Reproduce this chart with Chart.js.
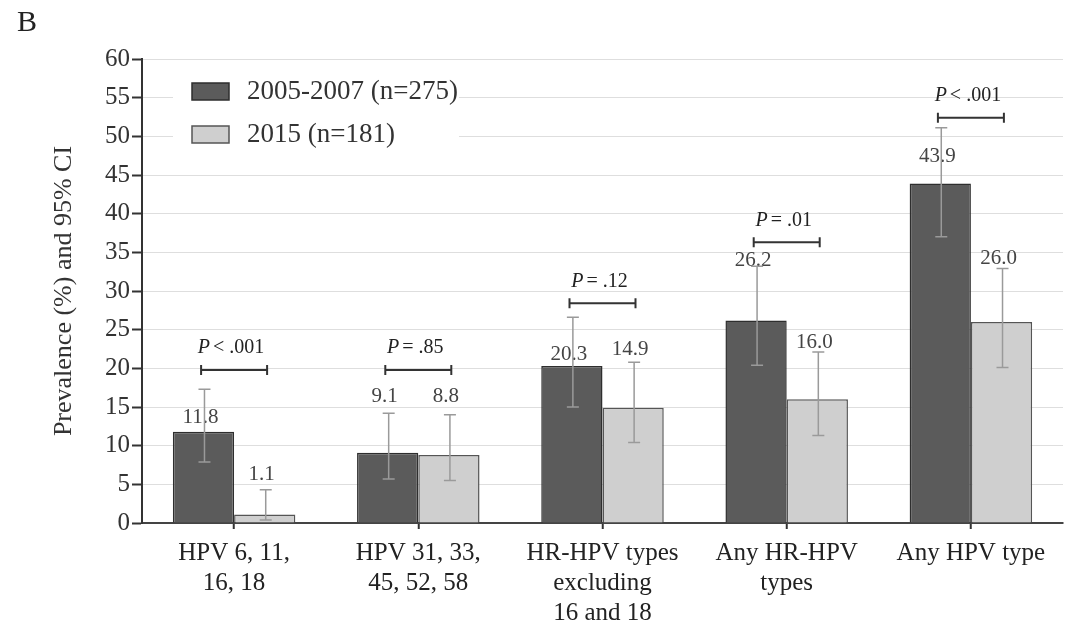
<!DOCTYPE html>
<html><head><meta charset="utf-8">
<script src="https://cdn.jsdelivr.net/npm/chart.js@4.4.0/dist/chart.umd.min.js"></script>
<style>
html,body{margin:0;padding:0;background:#fff;}
#wrap{position:relative;width:1072px;height:627px;overflow:hidden;}
#panel{position:absolute;left:17px;top:3px;font:30px "Liberation Serif",serif;color:#222;line-height:36px;}
</style></head><body>
<div id="wrap"><canvas id="c" width="1072" height="627"></canvas><div id="panel">B</div></div>
<script>
// ---- data ----
const categories = [["HPV 6, 11,","16, 18"],["HPV 31, 33,","45, 52, 58"],["HR-HPV types","excluding","16 and 18"],["Any HR-HPV","types"],["Any HPV type"]];
const seriesNames = ["2005-2007 (n=275)","2015 (n=181)"];
const prev2005 = [11.8, 9.1, 20.3, 26.2, 43.9];
const prev2015 = [1.1, 8.8, 14.9, 16.0, 26.0];
const ciLow2005 = [7.9, 5.7, 15.0, 20.4, 37.0];
const ciHigh2005 = [17.3, 14.2, 26.6, 33.2, 51.1];
const ciLow2015 = [0.4, 5.5, 10.4, 11.3, 20.1];
const ciHigh2015 = [4.3, 14.0, 20.8, 22.1, 32.9];
// level (in %) at which each value label is printed in the reference
const labelLevel2005 = [13.7, 16.3, 21.8, 34.0, 47.4];
const labelLevel2015 = [6.3, 16.3, 22.4, 23.3, 34.2];
const pValues = ["< .001","= .85","= .12","= .01","< .001"];
const pBracketLevel = [19.8, 19.8, 28.4, 36.3, 52.4];
const yMin = 0, yMax = 60, yStep = 5;
const yTitle = "Prevalence (%) and 95% CI";

const SERIF = '"Liberation Serif", "DejaVu Serif", serif';
const fmt = v => v.toFixed(1);

const overlay = {
  id: 'overlay',
  afterDatasetsDraw(chart) {
    const ctx = chart.ctx, y = chart.scales.y, x = chart.scales.x;
    const sets = [
      {vals: prev2005, lo: ciLow2005, hi: ciHigh2005, lab: labelLevel2005},
      {vals: prev2015, lo: ciLow2015, hi: ciHigh2015, lab: labelLevel2015}
    ];
    ctx.save();
    // value labels
    ctx.font = '21px ' + SERIF;
    ctx.fillStyle = '#444';
    ctx.textAlign = 'center';
    ctx.textBaseline = 'middle';
    sets.forEach((s, di) => {
      chart.getDatasetMeta(di).data.forEach((bar, i) => {
        ctx.fillText(fmt(s.vals[i]), bar.x - 3, y.getPixelForValue(s.lab[i]));
      });
    });
    // error bars
    ctx.strokeStyle = '#9a9a9a';
    ctx.lineWidth = 1.5;
    sets.forEach((s, di) => {
      chart.getDatasetMeta(di).data.forEach((bar, i) => {
        const cx = bar.x + 1;
        const yl = y.getPixelForValue(s.lo[i]), yh = y.getPixelForValue(s.hi[i]);
        ctx.beginPath();
        ctx.moveTo(cx, yl); ctx.lineTo(cx, yh);
        ctx.moveTo(cx - 6, yl); ctx.lineTo(cx + 6, yl);
        ctx.moveTo(cx - 6, yh); ctx.lineTo(cx + 6, yh);
        ctx.stroke();
      });
    });
    // p-value brackets
    ctx.strokeStyle = '#333';
    ctx.lineWidth = 2;
    pValues.forEach((p, i) => {
      const cx = x.getPixelForValue(i);
      const by = y.getPixelForValue(pBracketLevel[i]);
      ctx.beginPath();
      ctx.moveTo(cx - 33, by); ctx.lineTo(cx + 33, by);
      ctx.moveTo(cx - 33, by - 5); ctx.lineTo(cx - 33, by + 5);
      ctx.moveTo(cx + 33, by - 5); ctx.lineTo(cx + 33, by + 5);
      ctx.stroke();
      const fi = 'italic 20px ' + SERIF, fr = '20px ' + SERIF;
      const gap = 3;
      ctx.font = fi; const w1 = ctx.measureText('P').width;
      ctx.font = fr; const w2 = ctx.measureText(p).width;
      const x0 = cx - 3 - (w1 + gap + w2) / 2;
      ctx.fillStyle = '#222';
      ctx.textAlign = 'left';
      ctx.font = fi; ctx.fillText('P', x0, by - 22);
      ctx.font = fr; ctx.fillText(p, x0 + w1 + gap, by - 22);
    });
    // legend
    ctx.fillStyle = '#fff';
    ctx.fillRect(173, 66, 286, 92);
    const colors = [['#5b5b5b', '#2e2e2e'], ['#cfcfcf', '#555']];
    const rows = [92, 135];
    ctx.lineWidth = 1.5;
    seriesNames.forEach((n, i) => {
      ctx.fillStyle = colors[i][0];
      ctx.strokeStyle = colors[i][1];
      ctx.fillRect(192, rows[i] - 9, 37, 17);
      ctx.strokeRect(192, rows[i] - 9, 37, 17);
      ctx.fillStyle = '#333';
      ctx.font = '27px ' + SERIF;
      ctx.textAlign = 'left';
      ctx.textBaseline = 'middle';
      ctx.fillText(n, 247, rows[i]);
    });
    ctx.restore();
  }
};

new Chart(document.getElementById('c'), {
  type: 'bar',
  data: {
    labels: categories,
    datasets: [
      {label: seriesNames[0], data: prev2005, backgroundColor: '#5b5b5b', borderColor: '#2e2e2e', borderWidth: 1.5},
      {label: seriesNames[1], data: prev2015, backgroundColor: '#cfcfcf', borderColor: '#555', borderWidth: 1.5}
    ]
  },
  options: {
    responsive: false,
    animation: false,
    events: [],
    layout: {padding: {left: 0, top: 59, right: 9, bottom: 0}},
    datasets: {bar: {categoryPercentage: 0.665, barPercentage: 1.0}},
    plugins: {legend: {display: false}, tooltip: {enabled: false}},
    scales: {
      x: {
        offset: true,
        grid: {display: true, drawOnChartArea: false, drawTicks: true, tickLength: 6, tickColor: '#333', tickWidth: 2, offset: false, lineWidth: 1.5},
        border: {display: true, color: '#444', width: 2},
        ticks: {color: '#222', font: {family: SERIF, size: 25, lineHeight: 1.2}, padding: 9, maxRotation: 0, autoSkip: false},
        afterFit(s) { s.height = 627 - 523; }
      },
      y: {
        min: yMin, max: yMax,
        grid: {color: '#dedede', lineWidth: 1, tickColor: '#333', tickWidth: 2, tickLength: 10, drawTicks: true},
        border: {display: true, color: '#333', width: 2},
        ticks: {stepSize: yStep, color: '#333', font: {family: SERIF, size: 25}, padding: 2},
        title: {display: true, text: yTitle, color: '#333', font: {family: SERIF, size: 26}, padding: {top: 49, bottom: 0}},
        afterFit(s) { s.width = 142; }
      }
    }
  },
  plugins: [overlay]
});
</script>
</body></html>
